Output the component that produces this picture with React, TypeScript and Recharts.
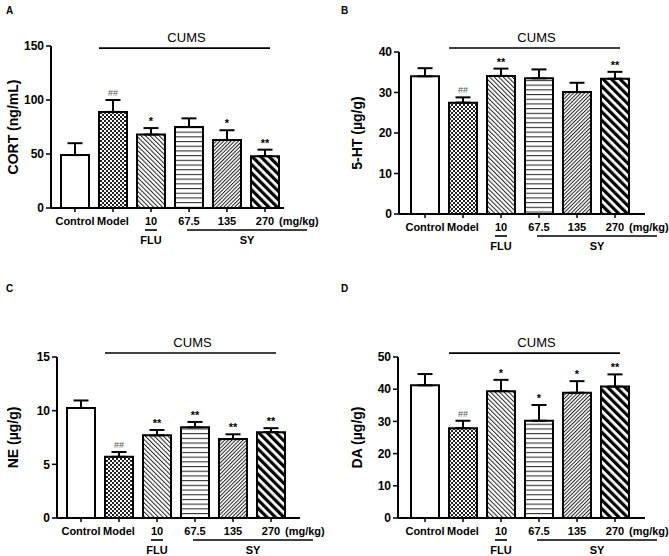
import React from "react";
import {
  ComposedChart,
  Bar,
  Cell,
  ErrorBar,
  Scatter,
  XAxis,
  YAxis,
  ReferenceLine,
} from "recharts";

const FONT = "Arial, 'Liberation Sans', Helvetica, sans-serif";

const groups = ["Control", "Model", "10", "67.5", "135", "270"];

// A: CORT
const cortMean = [49, 89, 68, 75, 63, 48];
const cortSem = [11, 11, 6, 8, 9, 6];
const cortMarks = ["", "##", "*", "", "*", "**"];
const cortTicks = [0, 50, 100, 150];

// B: 5-HT
const htMean = [34.0, 27.5, 34.1, 33.5, 30.1, 33.4];
const htSem = [2.0, 1.3, 1.8, 2.2, 2.3, 1.7];
const htMarks = ["", "##", "**", "", "", "**"];
const htTicks = [0, 10, 20, 30, 40];

// C: NE
const neMean = [10.25, 5.7, 7.7, 8.45, 7.35, 8.0];
const neSem = [0.7, 0.45, 0.5, 0.5, 0.45, 0.37];
const neMarks = ["", "##", "**", "**", "**", "**"];
const neTicks = [0, 5, 10, 15];

// D: DA
const daMean = [41.2, 27.9, 39.4, 30.2, 38.9, 40.8];
const daSem = [3.5, 2.3, 3.5, 4.9, 3.6, 3.8];
const daMarks = ["", "##", "*", "*", "*", "**"];
const daTicks = [0, 10, 20, 30, 40, 50];

const BAR_W = 28;
const CHART_H = 278;
const X_AXIS_H = 38;

function Patterns({ id }: { id: string }) {
  return (
    <defs>
      <pattern id={`${id}-1`} width={4} height={4} patternUnits="userSpaceOnUse">
        <rect width={4} height={4} fill="#fff" />
        <rect x={0} y={0} width={2} height={2} fill="#222" />
        <rect x={2} y={2} width={2} height={2} fill="#222" />
      </pattern>
      <pattern id={`${id}-2`} width={3.2} height={3.2} patternUnits="userSpaceOnUse" patternTransform="rotate(-45)">
        <rect width={3.2} height={3.2} fill="#fff" />
        <rect width={1} height={3.2} fill="#222" />
      </pattern>
      <pattern id={`${id}-3`} width={4.7} height={4.7} patternUnits="userSpaceOnUse">
        <rect width={4.7} height={4.7} fill="#fff" />
        <rect width={4.7} height={1.1} fill="#333" />
      </pattern>
      <pattern id={`${id}-4`} width={2.6} height={2.6} patternUnits="userSpaceOnUse" patternTransform="rotate(45)">
        <rect width={2.6} height={2.6} fill="#fff" />
        <rect width={1} height={2.6} fill="#222" />
      </pattern>
      <pattern id={`${id}-5`} width={6} height={6} patternUnits="userSpaceOnUse" patternTransform="rotate(-45)">
        <rect width={6} height={6} fill="#fff" />
        <rect width={3.2} height={6} fill="#000" />
      </pattern>
    </defs>
  );
}

function GroupTick(props: any) {
  const { x, y, payload, band } = props;
  const axisY = y - 4;
  const v = payload.value;
  const txt = { fontFamily: FONT, fontSize: 11, fontWeight: 700, fill: "#000" };
  return (
    <g>
      <text x={x} y={axisY + 17} textAnchor="middle" {...txt}>
        {v}
      </text>
      {v === "10" && (
        <>
          <line x1={x - 6} x2={x + 6} y1={axisY + 22} y2={axisY + 22} stroke="#000" strokeWidth={1.6} />
          <text x={x} y={axisY + 36} textAnchor="middle" {...txt}>
            FLU
          </text>
        </>
      )}
      {v === "67.5" && (
        <>
          <line x1={x - 2} x2={x + 3 * band + 4} y1={axisY + 22} y2={axisY + 22} stroke="#000" strokeWidth={1.6} />
          <text x={x + 1.5 * band + 1} y={axisY + 36} textAnchor="middle" {...txt}>
            SY
          </text>
        </>
      )}
      {v === "270" && (
        <text x={x + 14} y={axisY + 17} textAnchor="start" {...txt}>
          (mg/kg)
        </text>
      )}
    </g>
  );
}

function YTitle(props: any) {
  const { viewBox, text, tx } = props;
  const cy = viewBox.y + viewBox.height / 2;
  return (
    <text
      transform={`translate(${tx}, ${cy}) rotate(-90)`}
      textAnchor="middle"
      dominantBaseline="central"
      fontFamily={FONT}
      fontSize={14}
      fontWeight={700}
      fill="#000"
    >
      {text}
    </text>
  );
}

function CumsShape(props: any) {
  const { x1, y1, x2 } = props;
  const left = x1 - BAR_W / 2;
  const right = x2 + 5;
  return (
    <g>
      <line x1={left} x2={right} y1={y1} y2={y1} stroke="#000" strokeWidth={1.6} />
      <text x={(left + right) / 2 + 2} y={y1 - 6} textAnchor="middle" fontFamily={FONT} fontSize={13} fill="#000">
        CUMS
      </text>
    </g>
  );
}

function MarkShape(props: any) {
  const { cx, cy, payload } = props;
  if (!payload || !payload.mark) return <g />;
  const hash = payload.mark === "##";
  return (
    <text
      x={cx}
      y={hash ? cy - 4 : cy - 3}
      textAnchor="middle"
      fontFamily={FONT}
      fontSize={hash ? 9 : 11}
      fontWeight={hash ? 400 : 700}
      fill={hash ? "#555" : "#000"}
    >
      {payload.mark}
    </text>
  );
}

type PanelProps = {
  letter: string;
  title: string;
  means: number[];
  sems: number[];
  marks: string[];
  ticks: number[];
  cumsAt: number;
  width: number;
  axisX: number;
  top: number;
  bottom: number;
  plotRight: number;
  padL: number;
  padR: number;
  titleX: number;
};

function Panel(p: PanelProps) {
  const data = groups.map((g, i) => ({
    name: g,
    mean: p.means[i],
    err: [0, p.sems[i]],
    top: p.means[i] + p.sems[i],
    mark: p.marks[i],
  }));
  const band = (p.plotRight - p.axisX - p.padL - p.padR) / groups.length;
  const max = p.ticks[p.ticks.length - 1];
  return (
    <div style={{ position: "relative", width: p.width, height: CHART_H }}>
      <div
        style={{
          position: "absolute",
          left: 6,
          top: 6,
          fontFamily: FONT,
          fontSize: 10,
          lineHeight: "10px",
          fontWeight: 700,
        }}
      >
        {p.letter}
      </div>
      <ComposedChart
        width={p.width}
        height={CHART_H}
        data={data}
        margin={{
          top: p.top,
          left: 0,
          right: p.width - p.plotRight,
          bottom: CHART_H - p.bottom - X_AXIS_H,
        }}
      >
        <Patterns id={p.letter} />
        <XAxis
          dataKey="name"
          type="category"
          height={X_AXIS_H}
          padding={{ left: p.padL, right: p.padR }}
          axisLine={{ stroke: "#000", strokeWidth: 2 }}
          tickLine={{ stroke: "#000", strokeWidth: 1.5 }}
          tickSize={4}
          tickMargin={0}
          interval={0}
          tick={<GroupTick band={band} />}
        />
        <YAxis
          width={p.axisX}
          domain={[0, max]}
          ticks={p.ticks}
          allowDataOverflow
          axisLine={{ stroke: "#000", strokeWidth: 2 }}
          tickLine={{ stroke: "#000", strokeWidth: 1.5 }}
          tickSize={5}
          tickMargin={2}
          tick={{ fontFamily: FONT, fontSize: 12, fontWeight: 700, fill: "#000" }}
          label={<YTitle text={p.title} tx={p.titleX} />}
        />
        <Bar dataKey="mean" barSize={BAR_W} stroke="#000" strokeWidth={2} isAnimationActive={false}>
          {data.map((d, i) => (
            <Cell key={d.name} fill={i === 0 ? "#fff" : `url(#${p.letter}-${i})`} />
          ))}
          <ErrorBar dataKey="err" width={7.5} stroke="#000" strokeWidth={2} isAnimationActive={false} />
        </Bar>
        <Scatter dataKey="top" shape={<MarkShape />} isAnimationActive={false} />
        <ReferenceLine
          segment={[
            { x: "Model", y: p.cumsAt },
            { x: "270", y: p.cumsAt },
          ]}
          ifOverflow="visible"
          shape={(s: any) => <CumsShape {...s} />}
        />
      </ComposedChart>
    </div>
  );
}

export default function App() {
  return (
    <div
      style={{
        position: "absolute",
        left: 0,
        top: 0,
        width: 669,
        height: 556,
        background: "#fff",
        display: "grid",
        gridTemplateColumns: "335px 334px",
        gridTemplateRows: "278px 278px",
      }}
    >
      <Panel
        letter="A"
        title="CORT (ng/mL)"
        means={cortMean}
        sems={cortSem}
        marks={cortMarks}
        ticks={cortTicks}
        cumsAt={148}
        width={335}
        axisX={51}
        top={46}
        bottom={208}
        plotRight={284}
        padL={5}
        padR={0}
        titleX={13}
      />
      <Panel
        letter="B"
        title="5-HT (µg/g)"
        means={htMean}
        sems={htSem}
        marks={htMarks}
        ticks={htTicks}
        cumsAt={41}
        width={334}
        axisX={64}
        top={52}
        bottom={214}
        plotRight={310}
        padL={7}
        padR={11}
        titleX={22}
      />
      <Panel
        letter="C"
        title="NE (µg/g)"
        means={neMean}
        sems={neSem}
        marks={neMarks}
        ticks={neTicks}
        cumsAt={15.37}
        width={335}
        axisX={57}
        top={79}
        bottom={240}
        plotRight={300}
        padL={5}
        padR={10}
        titleX={13}
      />
      <Panel
        letter="D"
        title="DA (µg/g)"
        means={daMean}
        sems={daSem}
        marks={daMarks}
        ticks={daTicks}
        cumsAt={51.2}
        width={334}
        axisX={63}
        top={79}
        bottom={240}
        plotRight={310}
        padL={8}
        padR={11}
        titleX={22}
      />
    </div>
  );
}
